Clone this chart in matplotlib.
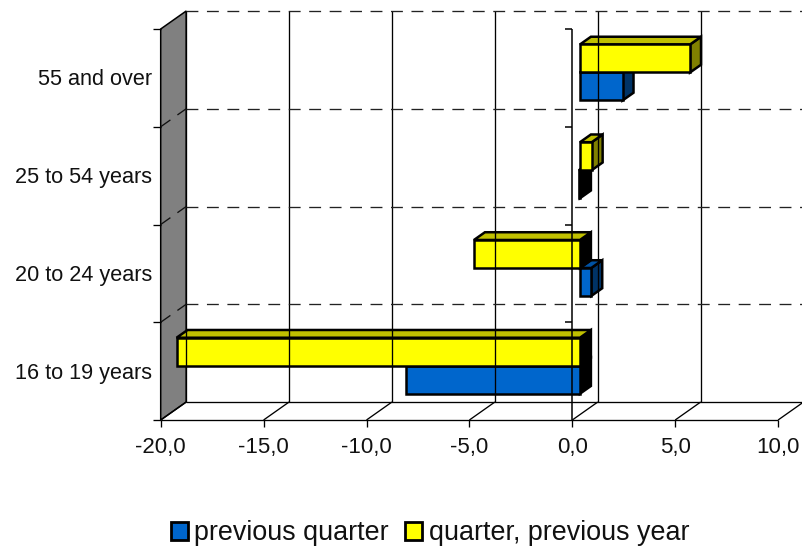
import matplotlib
matplotlib.use('Agg')
from matplotlib import pyplot as plt
from matplotlib.patches import Patch

plt.rcParams['font.family'] = ['Liberation Sans', 'DejaVu Sans']

categories = ['16 to 19 years', '20 to 24 years', '25 to 54 years', '55 and over']
prev_quarter = [-8.45, 0.55, -0.05, 2.07]
prev_year = [-19.6, -5.15, 0.57, 5.35]
x_ticks = [-20, -15, -10, -5, 0, 5, 10]
x_labels = ['-20,0', '-15,0', '-10,0', '-5,0', '0,0', '5,0', '10,0']

BLUE = ('#0066cc', '#0052a3', '#003366')
YELLOW = ('#ffff00', '#c0c000', '#808000')

# scale of the picture: px per value unit, px per category
PX_X = 20.58
PX_Y = 97.75
X0_PX = 160.7  # where -20 sits
Y0_PX = 420.0  # floor, front edge
W, H = 802, 547

# how far the back wall is pushed, in data units
DEPTH_X = 25.5 / PX_X
DEPTH_Y = 18.0 / PX_Y
BAR_H = 28.0 / PX_Y
D0, D1 = 0.30, 0.73  # bar front and back inside the depth


def proj(v, c, d=0.0):
    return v + d * DEPTH_X, c + d * DEPTH_Y


fig = plt.figure(figsize=(W / 100, H / 100), dpi=100)
ax = fig.add_axes([0, 0, 1, 1])
ax.set_xlim(-20 - X0_PX / PX_X, -20 + (W - X0_PX) / PX_X)
ax.set_ylim(-(H - Y0_PX) / PX_Y, Y0_PX / PX_Y)
ax.axis('off')

n = len(categories)
xmin, xmax = x_ticks[0], x_ticks[-1]
dash = (0, (9, 6.5))


def seg(p, q, **kw):
    kw.setdefault('color', 'black')
    kw.setdefault('lw', 0.95)
    ax.plot([p[0], q[0]], [p[1], q[1]], solid_capstyle='butt', **kw)


# left wall
wall = [proj(xmin, 0), proj(xmin, n), proj(xmin, n, 1), proj(xmin, 0, 1)]
ax.fill(*zip(*wall), fc='#808080', ec='black', lw=1.1)

# back wall gridlines
for t in x_ticks:
    seg(proj(t, 0, 1), proj(t, n, 1))
    seg(proj(t, 0, 0), proj(t, 0, 1))
    seg(proj(t, 0, 0), (t, -7 / PX_Y))
seg(proj(xmin, 0), proj(xmax, 0))
seg(proj(xmin, 0, 1), proj(xmax + 2, 0, 1))
for c in range(1, n + 1):
    seg(proj(xmin, c, 1), proj(xmax + 2, c, 1), ls=dash, color='#222222')
for c in range(1, n):
    seg(proj(xmin, c), proj(xmin, c, 1), ls=dash, color='#111111')

# category ticks on the wall and on the zero axis
seg(proj(0, 0), proj(0, n), lw=1.1)
for c in range(n + 1):
    seg((xmin - 7.5 / PX_X, c), (xmin, c))
    if c > 0:
        seg((-7.5 / PX_X, c), (0, c), lw=1.1)


def bar(c_bottom, value, colors):
    lo, hi = min(value, 0), max(value, 0)
    t = c_bottom + BAR_H
    a = D0
    b = D1
    top = [proj(lo, t, a), proj(hi, t, a), proj(hi, t, b), proj(lo, t, b)]
    side = [proj(hi, c_bottom, a), proj(hi, t, a), proj(hi, t, b), proj(hi, c_bottom, b)]
    front = [proj(lo, c_bottom, a), proj(hi, c_bottom, a), proj(hi, t, a), proj(lo, t, a)]
    side_color = colors[2] if value > 0 else 'black'
    ax.fill(*zip(*side), fc=side_color, ec='black', lw=1.8, joinstyle='miter')
    ax.fill(*zip(*top), fc=colors[1], ec='black', lw=1.8, joinstyle='miter')
    ax.fill(*zip(*front), fc=colors[0], ec='black', lw=1.8, joinstyle='miter')


# upper categories first, blue before yellow
for i in range(n - 1, -1, -1):
    mid = i + 0.5
    bar(mid - BAR_H, prev_quarter[i], BLUE)
    bar(mid, prev_year[i], YELLOW)

for t, lab in zip(x_ticks, x_labels):
    ax.text(t, -27 / PX_Y, lab, ha='center', va='center', fontsize=16, color='#111111')
for i, lab in enumerate(categories):
    ax.text(xmin - 8.5 / PX_X, i + 0.5 - 2 / PX_Y, lab, ha='right', va='center', fontsize=15.6, color='#111111')

handles = [Patch(fc=BLUE[0], ec='black', lw=2), Patch(fc=YELLOW[0], ec='black', lw=2)]
ax.legend(handles, ['previous quarter', 'quarter, previous year'], ncol=2, frameon=False,
          loc='center', bbox_to_anchor=(430 / W, 1 - 533 / H), fontsize=19.4,
          handlelength=0.63, handleheight=0.65, handletextpad=0.24, columnspacing=0.6,
          labelcolor='#111111')

fig.savefig('out.png', dpi=100)
